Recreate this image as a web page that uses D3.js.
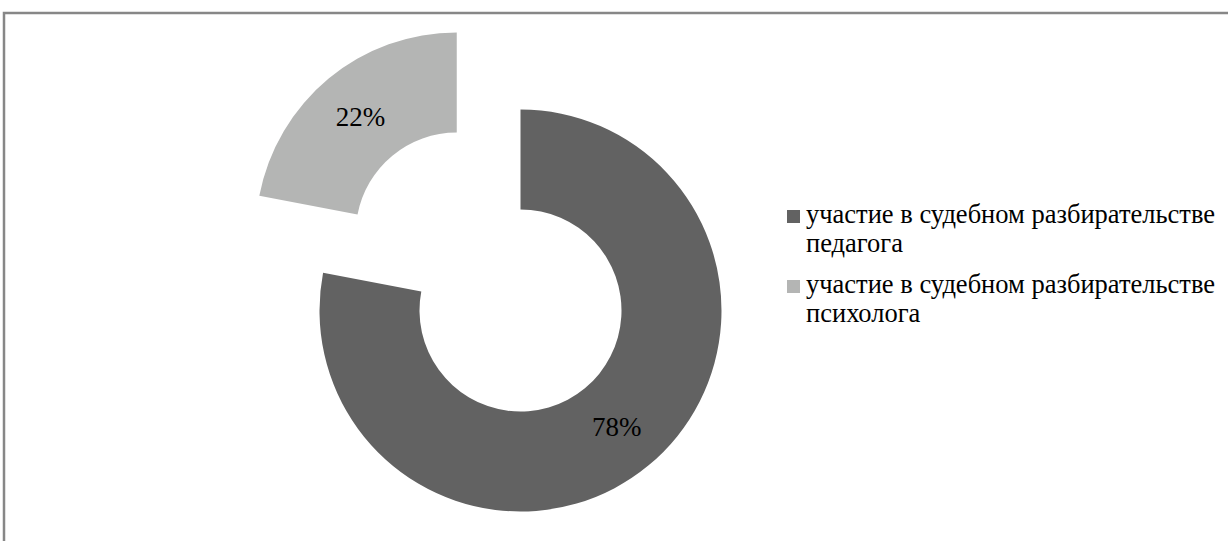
<!DOCTYPE html>
<html>
<head>
<meta charset="utf-8">
<script src="https://cdn.jsdelivr.net/npm/d3@7"></script>
<style>
  body { margin: 0; background: #fff; }
</style>
</head>
<body>
<div id="chart"></div>
<script>
// data
const categories = [
  "участие в судебном разбирательстве педагога",
  "участие в судебном разбирательстве психолога"
];
const values = [78, 22];
const labels = ["78%", "22%"];
const colors = ["#626262", "#b4b5b4"];
const exploded = [0, 100];   // pull-out distance per slice

const width = 1228, height = 541;
const cx = 520.5, cy = 310.5;
const outerR = 201, innerR = 101;
const serif = "'Liberation Serif', Tinos, 'Times New Roman', serif";

const svg = d3.select("#chart")
  .append("svg")
    .attr("width", width)
    .attr("height", height)
    .style("font-family", serif);

// chart area frame (right and bottom edges run off the page)
svg.append("rect")
  .attr("x", 4)
  .attr("y", 13)
  .attr("width", width + 20)
  .attr("height", height + 20)
  .attr("fill", "none")
  .attr("stroke", "#878787")
  .attr("stroke-width", 2.5);

const pie = d3.pie().sort(null).value(d => d.value);
const arc = d3.arc().innerRadius(innerR).outerRadius(outerR);

const slices = pie(values.map((v, i) => ({value: v, i: i})));

const g = svg.append("g")
  .attr("transform", `translate(${cx},${cy})`);

const sliceG = g.selectAll("g.slice")
  .data(slices)
  .join("g")
    .attr("class", "slice")
    .attr("transform", d => {
      const a = (d.startAngle + d.endAngle) / 2;
      const off = exploded[d.data.i];
      return `translate(${Math.sin(a) * off},${-Math.cos(a) * off})`;
    });

sliceG.append("path")
  .attr("d", arc)
  .attr("fill", d => colors[d.data.i]);

sliceG.append("text")
  .attr("transform", d => `translate(${arc.centroid(d)})`)
  .attr("text-anchor", "middle")
  .attr("dy", "0.33em")
  .attr("font-family", serif)
  .attr("font-size", 27)
  .attr("fill", "#000")
  .text(d => labels[d.data.i]);

// legend
const legend = svg.append("g")
  .attr("transform", "translate(787,0)");

const legendTop = [223, 293];
const lineH = 29;

categories.forEach((name, i) => {
  legend.append("rect")
    .attr("x", 0)
    .attr("y", legendTop[i] - 13)
    .attr("width", 13)
    .attr("height", 13)
    .attr("fill", colors[i]);

  // wrap at the last word, like the original
  const words = name.split(" ");
  const lines = [words.slice(0, -1).join(" "), words[words.length - 1]];
  const t = legend.append("text")
    .attr("x", 19)
    .attr("y", legendTop[i])
    .attr("font-family", serif)
    .attr("font-size", 26.5)
    .attr("fill", "#000");
  lines.forEach((ln, k) => {
    t.append("tspan")
      .attr("x", 19)
      .attr("y", legendTop[i] + k * lineH)
      .text(ln);
  });
});
</script>
</body>
</html>
